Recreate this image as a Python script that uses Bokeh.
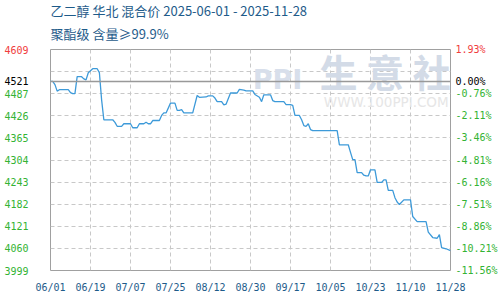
import pandas as pd
from bokeh.plotting import figure
from bokeh.models import (Range1d, FixedTicker, LinearAxis, Label, Span, Title,
                          DatetimeTickFormatter, ColumnDataSource)
from bokeh.embed import file_html
from bokeh.resources import INLINE

# ---------------- data ----------------
title_line1 = "乙二醇 华北 混合价 2025-06-01 - 2025-11-28"
title_line2 = "聚酯级 含量≥99.9%"

dates = [
    "2025-06-01", "2025-06-02", "2025-06-03", "2025-06-04", "2025-06-05", "2025-06-09",
    "2025-06-10", "2025-06-11", "2025-06-12", "2025-06-13", "2025-06-15", "2025-06-16",
    "2025-06-17", "2025-06-18", "2025-06-20", "2025-06-22", "2025-06-23", "2025-06-24",
    "2025-06-25", "2025-06-29", "2025-06-30", "2025-07-01", "2025-07-03", "2025-07-04",
    "2025-07-07", "2025-07-08", "2025-07-10", "2025-07-11", "2025-07-13", "2025-07-14",
    "2025-07-15", "2025-07-16", "2025-07-17", "2025-07-20", "2025-07-21", "2025-07-22",
    "2025-07-23", "2025-07-25", "2025-07-27", "2025-07-28", "2025-07-29", "2025-07-30",
    "2025-07-31", "2025-08-04", "2025-08-06", "2025-08-07", "2025-08-10", "2025-08-11",
    "2025-08-13", "2025-08-14", "2025-08-15", "2025-08-17", "2025-08-18", "2025-08-19",
    "2025-08-21", "2025-08-24", "2025-08-25", "2025-08-27", "2025-08-28", "2025-08-31",
    "2025-09-01", "2025-09-03", "2025-09-04", "2025-09-05", "2025-09-08", "2025-09-09",
    "2025-09-10", "2025-09-14", "2025-09-15", "2025-09-17", "2025-09-18", "2025-09-19",
    "2025-09-21", "2025-09-22", "2025-09-23", "2025-09-24", "2025-09-25", "2025-09-26",
    "2025-09-27", "2025-10-08", "2025-10-09", "2025-10-13", "2025-10-14", "2025-10-15",
    "2025-10-16", "2025-10-17", "2025-10-19", "2025-10-20", "2025-10-21", "2025-10-22",
    "2025-10-23", "2025-10-25", "2025-10-26", "2025-10-28", "2025-10-29", "2025-10-30",
    "2025-10-31", "2025-11-02", "2025-11-03", "2025-11-04", "2025-11-05", "2025-11-07",
    "2025-11-10", "2025-11-11", "2025-11-13", "2025-11-17", "2025-11-18", "2025-11-20",
    "2025-11-22", "2025-11-23", "2025-11-24", "2025-11-26", "2025-11-28",
]
prices = [
    4521, 4521, 4512, 4494, 4498, 4498,
    4490, 4487, 4487, 4534, 4534, 4528,
    4525, 4545, 4556, 4556, 4545, 4470,
    4415, 4415, 4408, 4397, 4397, 4404,
    4404, 4393, 4393, 4404, 4404, 4408,
    4404, 4404, 4413, 4413, 4427, 4434,
    4434, 4461, 4461, 4441, 4441, 4443,
    4434, 4434, 4482, 4477, 4478, 4481,
    4481, 4475, 4465, 4465, 4456, 4458,
    4489, 4489, 4499, 4497, 4495, 4495,
    4485, 4477, 4465, 4484, 4484, 4468,
    4465, 4465, 4457, 4457, 4455, 4427,
    4427, 4415, 4399, 4397, 4404, 4388,
    4385, 4385, 4346, 4346, 4325, 4305,
    4305, 4269, 4269, 4262, 4260, 4260,
    4277, 4277, 4242, 4242, 4249, 4249,
    4220, 4220, 4200, 4188, 4181, 4194,
    4194, 4148, 4134, 4134, 4105, 4090,
    4088, 4098, 4062, 4059, 4054,
]

x_tick_dates = ["2025-06-01", "2025-06-19", "2025-07-07", "2025-07-25", "2025-08-12",
                "2025-08-30", "2025-09-17", "2025-10-05", "2025-10-23", "2025-11-10",
                "2025-11-28"]

base_price = 4521
y_min, y_max = 3999, 4609
grid_values = [3999, 4060, 4121, 4182, 4243, 4304, 4365, 4426, 4487, 4548, 4609]
green_ticks = [3999, 4060, 4121, 4182, 4243, 4304, 4365, 4426, 4487]
pct_labels = ["-11.56%", "-10.21%", "-8.86%", "-7.51%", "-6.16%", "-4.81%",
              "-3.46%", "-2.11%", "-0.76%"]
top_pct_label = "1.93%"
base_pct_label = "0.00%"

# ---------------- styles ----------------
GREEN = "#33b333"
RED = "#f03c3c"
BLUE_TXT = "#1e5b8a"
LINE = "#3d9ad9"
MONO = "DejaVu Sans Mono"
CJK = "Noto Sans CJK SC"

x = pd.to_datetime(dates)
src = ColumnDataSource(dict(x=x, y=prices))
xt = pd.to_datetime(x_tick_dates)
x_start, x_end = xt[0], xt[-1]

p = figure(width=500, height=300, output_backend="svg", toolbar_location=None,
           x_axis_type="datetime",
           x_range=Range1d(x_start, x_end), y_range=Range1d(y_min, y_max),
           min_border_left=50, min_border_right=50, min_border_top=49,
           min_border_bottom=30, background_fill_color="white",
           border_fill_color="white")

p.outline_line_color = "#a0a0a0"
p.outline_line_width = 1

NO_TICKS = dict(major_tick_out=0, major_tick_in=0, minor_tick_out=0, minor_tick_in=0,
                axis_line_color=None, major_label_text_font=MONO,
                major_label_text_font_size="10px")

# x axis
xa = p.xaxis[0]
xa.ticker = FixedTicker(ticks=[t.timestamp() * 1000 for t in xt])
xa.formatter = DatetimeTickFormatter(days="%m/%d", months="%m/%d", years="%m/%d",
                                     hours="%m/%d", minutes="%m/%d")
xa.update(major_label_text_color=BLUE_TXT, major_label_standoff=11, **NO_TICKS)

# left axes: green values, then red top value and black base value overlapping
ya = p.yaxis[0]
ya.ticker = FixedTicker(ticks=green_ticks)
ya.update(major_label_text_color=GREEN, major_label_standoff=22, **NO_TICKS)

p.add_layout(LinearAxis(ticker=FixedTicker(ticks=[y_max]), major_label_text_color=RED,
                        major_label_standoff=-27, **NO_TICKS), "left")
p.add_layout(LinearAxis(ticker=FixedTicker(ticks=[base_price]),
                        major_label_text_color="black", major_label_standoff=-27,
                        **NO_TICKS), "left")

# right axes: percent labels
p.add_layout(LinearAxis(ticker=FixedTicker(ticks=green_ticks),
                        major_label_overrides={v: s for v, s in zip(green_ticks, pct_labels)},
                        major_label_text_color=GREEN, major_label_standoff=5,
                        **NO_TICKS), "right")
p.add_layout(LinearAxis(ticker=FixedTicker(ticks=[y_max]),
                        major_label_overrides={y_max: top_pct_label},
                        major_label_text_color=RED, major_label_standoff=-45,
                        **NO_TICKS), "right")
p.add_layout(LinearAxis(ticker=FixedTicker(ticks=[base_price]),
                        major_label_overrides={base_price: base_pct_label},
                        major_label_text_color="black", major_label_standoff=-45,
                        **NO_TICKS), "right")

# grids
p.xgrid.ticker = FixedTicker(ticks=[t.timestamp() * 1000 for t in xt])
p.ygrid.ticker = FixedTicker(ticks=grid_values)
for g in (p.xgrid[0], p.ygrid[0]):
    g.grid_line_color = "#c8c8c8"
    g.grid_line_dash = "4 3"
    g.grid_line_width = 1

# watermark
p.add_layout(Label(x=pd.Timestamp("2025-08-31"), y=4483, text="PPI",
                   text_font="DejaVu Sans", text_font_size="27px", text_font_style="bold",
                   text_color="#d8dfeb", level="underlay"))
p.add_layout(Label(x=pd.Timestamp("2025-09-30"), y=4476, text="生 意 社",
                   text_font=CJK, text_font_size="38px", text_font_style="bold",
                   text_color="#d3dbe7", level="underlay"))
p.add_layout(Label(x=pd.Timestamp("2025-10-02"), y=4441, text="WWW.100PPI.COM",
                   text_font="DejaVu Sans", text_font_size="13.5px",
                   text_color="#e6e6e6", level="underlay"))

# base line
p.add_layout(Span(location=base_price, dimension="width", line_color="#999999",
                  line_width=1.5))

# series
p.line("x", "y", source=src, line_color=LINE, line_width=1.3)

# titles
p.add_layout(Title(text=title_line2, text_font=CJK, text_font_size="13px",
                   text_font_style="normal", text_color=BLUE_TXT, align="left",
                   standoff=13), "above")
p.add_layout(Title(text=title_line1, text_font=CJK, text_font_size="13px",
                   text_font_style="normal", text_color=BLUE_TXT, align="left",
                   standoff=-9), "above")

open("out.html", "w").write(file_html(p, INLINE))
